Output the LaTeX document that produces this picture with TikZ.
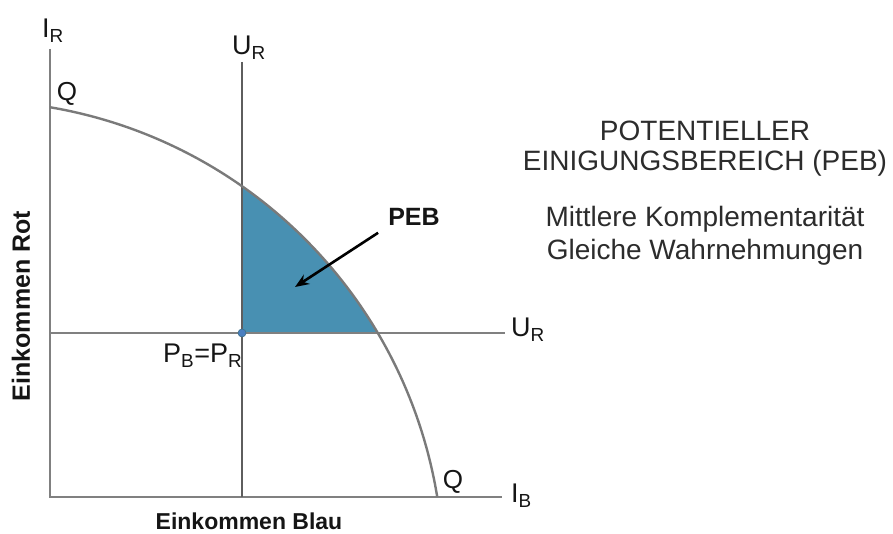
\documentclass[tikz,border=0pt]{standalone}
\usepackage{fontspec}
\setmainfont{Liberation Sans}
\usetikzlibrary{arrows.meta,calc}
\definecolor{axisgrey}{HTML}{808080}
\definecolor{urgrey}{HTML}{5E5E5E}
\definecolor{curvegrey}{HTML}{7A7A7A}
\definecolor{pebblue}{HTML}{4890B2}
\definecolor{pebedge}{HTML}{3C6F88}
\definecolor{dotblue}{HTML}{4A7FC0}
\definecolor{ink}{HTML}{151515}
\tikzset{
  axis/.style={draw=axisgrey, line width=2.2pt},
  urline/.style={draw=urgrey, line width=2.8pt},
  curve/.style={draw=curvegrey, line width=2.4pt},
  axlbl/.style={font=\fontsize{27}{30}\selectfont, text=ink, inner sep=0pt},
  qlbl/.style={font=\fontsize{26}{30}\selectfont, text=ink, inner sep=0pt},
  infotxt/.style={font=\fontsize{28}{32}\selectfont, text=ink!90, inner sep=0pt},
  boldlbl/.style={font=\fontsize{23}{26}\selectfont\bfseries, text=ink, inner sep=0pt},
  pointer/.style={-{Stealth[length=14pt,width=11pt]}, draw=black, line width=2.6pt}
}

\begin{document}
\begin{tikzpicture}[x=1pt, y=1pt]
  \useasboundingbox (0,0) rectangle (893,534);
  \coordinate (O) at (50,37);
  \coordinate (Itop) at (50,485);
  \coordinate (Iend) at (502,37);
  \coordinate (Utop) at (242,472);
  \coordinate (Ubot) at (242,37);
  \coordinate (Uleft) at (50,201);
  \coordinate (Uright) at (505,201);
  \coordinate (qc) at (-29.5,-39.5); % centre of the Q arc

  % potential agreement zone
  \fill[pebblue, draw=pebedge, line width=0.8pt] (242,201) -- ($(qc)+(54.97:473)$)
    arc[start angle=54.97, end angle=30.56, radius=473] -- cycle;

  \draw[axis] (Itop) -- (O) -- (Iend);
  \draw[axis] (Uleft) -- (Uright);
  \draw[urline] (Utop) -- (Ubot);
  \draw[curve] ($(qc)+(80.33:473)$) arc[start angle=80.33, end angle=9.31, radius=473];
  \node[circle, fill=dotblue, draw=pebedge, line width=0.6pt, inner sep=0pt, minimum size=8pt] (pp) at (242,201) {};

  \node[axlbl, anchor=base west] (ir) at (42,496) {I\textsubscript{R}};
  \node[axlbl, anchor=base west] (urtop) at (232,479) {U\textsubscript{R}};
  \node[axlbl, anchor=base west] (urright) at (511,197) {U\textsubscript{R}};
  \node[axlbl, anchor=base west] (ib) at (511,31) {I\textsubscript{B}};
  \node[qlbl] (qtop) at (67,440) {Q};
  \node[qlbl] (qbot) at (453,52) {Q};
  \node[axlbl, anchor=base west] (pbpr) at (163,171) {P\textsubscript{B}=P\textsubscript{R}};

  \node[font=\fontsize{25}{28}\selectfont\bfseries, text=ink, inner sep=0pt] (peb) at (414,317) {PEB};
  \coordinate (pebtip) at (295,247);
  \draw[pointer] ([xshift=-10pt,yshift=-7pt]peb.south west) -- (pebtip);

  \node[boldlbl, font=\fontsize{25}{28}\selectfont\bfseries, rotate=90] (yname) at (21,228) {Einkommen Rot};
  \node[boldlbl, anchor=base] (xname) at (249,4) {Einkommen Blau};

  \node[infotxt, anchor=base] (t1) at (705,393) {POTENTIELLER};
  \node[infotxt, anchor=base] (t2) at (705,363) {EINIGUNGSBEREICH (PEB)};
  \node[infotxt, anchor=base] (t3) at (705,307) {Mittlere Komplementarität};
  \node[infotxt, anchor=base] (t4) at (705,274) {Gleiche Wahrnehmungen};
\end{tikzpicture}
\end{document}
